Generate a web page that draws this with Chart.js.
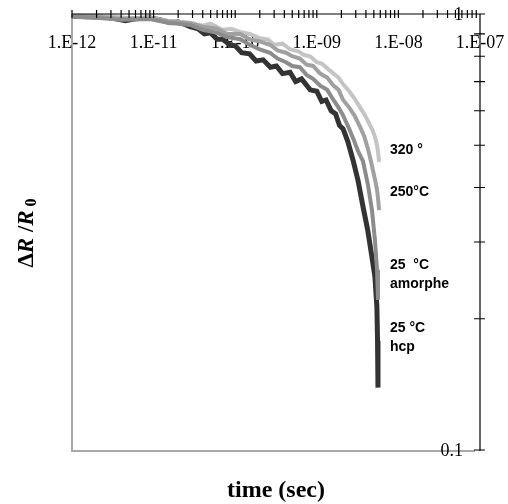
<!DOCTYPE html>
<html>
<head>
<meta charset="utf-8">
<script src="https://cdn.jsdelivr.net/npm/chart.js@4.4.1/dist/chart.umd.min.js"></script>
<style>
  body { margin: 0; background: #fff; }
  #wrap { width: 508px; height: 504px; }
</style>
</head>
<body>
<div id="wrap"><canvas id="myChart" width="508" height="504"></canvas></div>
<script>
// time (sec) and dR/R0, one pair of arrays per curve
const tHcp = [1e-12, 1.5e-12, 2.2e-12, 3e-12, 4.5e-12, 6e-12, 9e-12, 1.2e-11, 1.6e-11, 2e-11, 2.8e-11, 3.5e-11,
  4.2e-11, 5e-11, 6e-11, 7e-11, 8.6e-11, 1e-10, 1.2e-10, 1.5e-10, 1.8e-10, 2.2e-10, 2.7e-10, 3.2e-10, 3.8e-10,
  4.7e-10, 5.5e-10, 6.5e-10, 8.3e-10, 1e-9, 1.15e-9, 1.3e-9, 1.5e-9, 1.7e-9, 1.9e-9, 2.1e-9, 2.4e-9, 2.8e-9,
  3.2e-9, 3.7e-9, 4.2e-9, 4.7e-9, 5.15e-9, 5.45e-9, 5.55e-9, 5.62e-9];
const vHcp = [0.99, 0.985, 0.984, 0.98, 0.965, 0.975, 0.979, 0.97, 0.955, 0.96, 0.935, 0.925,
  0.9, 0.905, 0.875, 0.875, 0.85, 0.845, 0.815, 0.81, 0.78, 0.785, 0.755, 0.76, 0.73,
  0.735, 0.7, 0.71, 0.67, 0.665, 0.63, 0.635, 0.6, 0.59, 0.555, 0.545, 0.51, 0.46,
  0.415, 0.36, 0.32, 0.28, 0.25, 0.213, 0.178, 0.139];

const tAmo = [1e-12, 2e-12, 4e-12, 9e-12, 1.5e-11, 2.8e-11, 4e-11, 6e-11, 8e-11, 1.15e-10, 1.5e-10, 2e-10,
  2.67e-10, 3.3e-10, 4.2e-10, 5e-10, 6.2e-10, 7.5e-10, 9e-10, 1.1e-9, 1.34e-9, 1.6e-9, 1.85e-9, 2.1e-9,
  2.5e-9, 2.84e-9, 3.2e-9, 3.68e-9, 4.24e-9, 4.74e-9, 5.16e-9, 5.47e-9, 5.62e-9];
const vAmo = [0.985, 0.98, 0.97, 0.974, 0.955, 0.944, 0.92, 0.905, 0.885, 0.875, 0.85, 0.83,
  0.815, 0.79, 0.775, 0.76, 0.755, 0.725, 0.71, 0.685, 0.67, 0.635, 0.61, 0.585,
  0.545, 0.514, 0.485, 0.46, 0.405, 0.355, 0.303, 0.259, 0.221];

const t250 = [1e-12, 2e-12, 4e-12, 9e-12, 1.5e-11, 2.8e-11, 4e-11, 6e-11, 8e-11, 1.15e-10, 1.5e-10, 2e-10,
  2.67e-10, 3.3e-10, 4.2e-10, 5e-10, 6.2e-10, 7.5e-10, 9e-10, 1.1e-9, 1.34e-9, 1.6e-9, 1.85e-9, 2.1e-9,
  2.5e-9, 2.9e-9, 3.4e-9, 3.8e-9, 4.24e-9, 4.6e-9, 4.85e-9, 5.2e-9, 5.47e-9, 5.65e-9, 5.8e-9];
const v250 = [0.99, 0.985, 0.975, 0.978, 0.962, 0.952, 0.935, 0.925, 0.9, 0.9, 0.875, 0.865,
  0.85, 0.825, 0.815, 0.8, 0.79, 0.765, 0.76, 0.73, 0.715, 0.685, 0.67, 0.635,
  0.61, 0.585, 0.55, 0.525, 0.49, 0.46, 0.44, 0.415, 0.395, 0.375, 0.355];

const t320 = [1e-12, 2e-12, 3e-12, 5e-12, 9e-12, 1.5e-11, 2.8e-11, 4e-11, 5e-11, 7e-11, 9e-11, 1.15e-10,
  1.5e-10, 2e-10, 2.5e-10, 3e-10, 3.8e-10, 4.7e-10, 6e-10, 7e-10, 8.3e-10, 1e-9, 1.15e-9, 1.35e-9, 1.6e-9,
  1.85e-9, 2.1e-9, 2.5e-9, 2.9e-9, 3.4e-9, 3.9e-9, 4.4e-9, 4.85e-9, 5.2e-9, 5.47e-9, 5.65e-9, 5.8e-9];
const v320 = [0.995, 0.985, 0.988, 0.978, 0.98, 0.965, 0.955, 0.94, 0.95, 0.92, 0.925, 0.91,
  0.9, 0.88, 0.875, 0.85, 0.855, 0.83, 0.82, 0.805, 0.8, 0.775, 0.77, 0.75, 0.73,
  0.715, 0.69, 0.665, 0.64, 0.61, 0.585, 0.56, 0.54, 0.52, 0.5, 0.48, 0.458];

const xTickLabels = ['1.E-12', '1.E-11', '1.E-10', '1.E-09', '1.E-08', '1.E-07'];
const xDecades = [1e-12, 1e-11, 1e-10, 1e-9, 1e-8, 1e-7];
const yTickValues = [0.1, 0.2, 0.3, 0.4, 0.5, 0.6, 0.7, 0.8, 0.9, 1];
const yTickLabels = { 0.1: '0.1', 1: '1' };

const seriesNotes = [
  { lines: ['320 °'], v: 0.488 },
  { lines: ['250°C'], v: 0.391 },
  { lines: ['25  °C', 'amorphe'], v: 0.2655 },
  { lines: ['25 °C', 'hcp'], v: 0.1905 }
];

function pts(t, v) {
  return t.map((x, i) => ({ x: x, y: v[i] }));
}

const serif = '"Liberation Serif", "Times New Roman", serif';
const sans = '"Liberation Sans", Arial, sans-serif';

const behind = {
  id: 'behind',
  beforeDatasetsDraw(chart) {
    const { ctx, chartArea: a, scales } = chart;
    ctx.save();
    // gray left and bottom borders
    ctx.strokeStyle = '#a8a8a8';
    ctx.lineWidth = 2;
    ctx.beginPath();
    ctx.moveTo(a.left, a.top);
    ctx.lineTo(a.left, a.bottom + 1);
    ctx.lineTo(a.right - 5, a.bottom + 1);
    ctx.stroke();
    // x tick labels inside the plot
    ctx.fillStyle = '#000';
    ctx.font = '18px ' + serif;
    ctx.textAlign = 'center';
    ctx.textBaseline = 'middle';
    xDecades.forEach((d, i) => {
      ctx.fillText(xTickLabels[i], scales.x.getPixelForValue(d), a.top + 29);
    });
    ctx.restore();
  },
  afterDatasetsDraw(chart) {
    const { ctx, chartArea: a, scales } = chart;
    ctx.save();
    ctx.strokeStyle = '#000';
    ctx.lineWidth = 1.2;
    // top time axis
    ctx.beginPath();
    ctx.moveTo(a.left, a.top);
    ctx.lineTo(a.right + 4, a.top);
    for (let e = -12; e < -7; e++) {
      for (let m = 1; m <= 9; m++) {
        const px = scales.x.getPixelForValue(m * Math.pow(10, e));
        ctx.moveTo(px, a.top - 4);
        ctx.lineTo(px, a.top + 4);
      }
    }
    // right value axis
    ctx.moveTo(a.right, a.top);
    ctx.lineTo(a.right, a.bottom + 1);
    yTickValues.forEach(v => {
      const py = scales.y.getPixelForValue(v);
      ctx.moveTo(a.right - 6, py);
      ctx.lineTo(a.right + 5, py);
    });
    ctx.stroke();

    ctx.fillStyle = '#000';
    ctx.font = '18px ' + serif;
    ctx.textAlign = 'right';
    ctx.textBaseline = 'middle';
    yTickValues.forEach(v => {
      if (yTickLabels[v]) ctx.fillText(yTickLabels[v], a.right - 17, scales.y.getPixelForValue(v) + 1);
    });

    // curve names next to their ends
    ctx.font = 'bold 14px ' + sans;
    ctx.textAlign = 'left';
    seriesNotes.forEach(n => {
      const py = scales.y.getPixelForValue(n.v);
      n.lines.forEach((s, k) => ctx.fillText(s, a.left + 318, py + k * 19));
    });

    // axis titles
    ctx.font = 'bold 24px ' + serif;
    ctx.textAlign = 'center';
    ctx.fillText('time (sec)', (a.left + a.right) / 2, 491);

    ctx.translate(27, 233);
    ctx.rotate(-Math.PI / 2);
    ctx.textAlign = 'left';
    const parts = [
      ['Δ', 'bold 23px ' + serif, 0],
      ['R', 'italic bold 23px ' + serif, 0],
      [' /', 'bold 23px ' + serif, 0],
      ['R', 'italic bold 23px ' + serif, 0],
      [' 0', 'bold 16px ' + serif, 5]
    ];
    let w = 0;
    parts.forEach(p => { ctx.font = p[1]; w += ctx.measureText(p[0]).width; });
    let x0 = -w / 2;
    parts.forEach(p => {
      ctx.font = p[1];
      ctx.fillText(p[0], x0, p[2]);
      x0 += ctx.measureText(p[0]).width;
    });
    ctx.restore();
  }
};

const config = {
  type: 'scatter',
  data: {
    datasets: [
      { label: '25 °C amorphe', data: pts(tAmo, vAmo), borderColor: '#8c8c8c', borderWidth: 4 },
      { label: '250°C', data: pts(t250, v250), borderColor: '#a0a0a0', borderWidth: 4 },
      { label: '320 °', data: pts(t320, v320), borderColor: '#c4c4c4', borderWidth: 4 },
      { label: '25 °C hcp', data: pts(tHcp, vHcp), borderColor: '#333333', borderWidth: 5 }
    ].map(d => Object.assign(d, { showLine: true, pointRadius: 0, fill: false, tension: 0 }))
  },
  options: {
    responsive: false,
    animation: false,
    layout: { padding: { left: 72, top: 14, right: 28, bottom: 54 } },
    plugins: { legend: { display: false }, tooltip: { enabled: false } },
    scales: {
      x: { type: 'logarithmic', min: 1e-12, max: 1e-7, display: false },
      y: { type: 'logarithmic', min: 0.1, max: 1, display: false }
    }
  },
  plugins: [behind]
};

const myChart = new Chart(document.getElementById('myChart'), config);
</script>
</body>
</html>
